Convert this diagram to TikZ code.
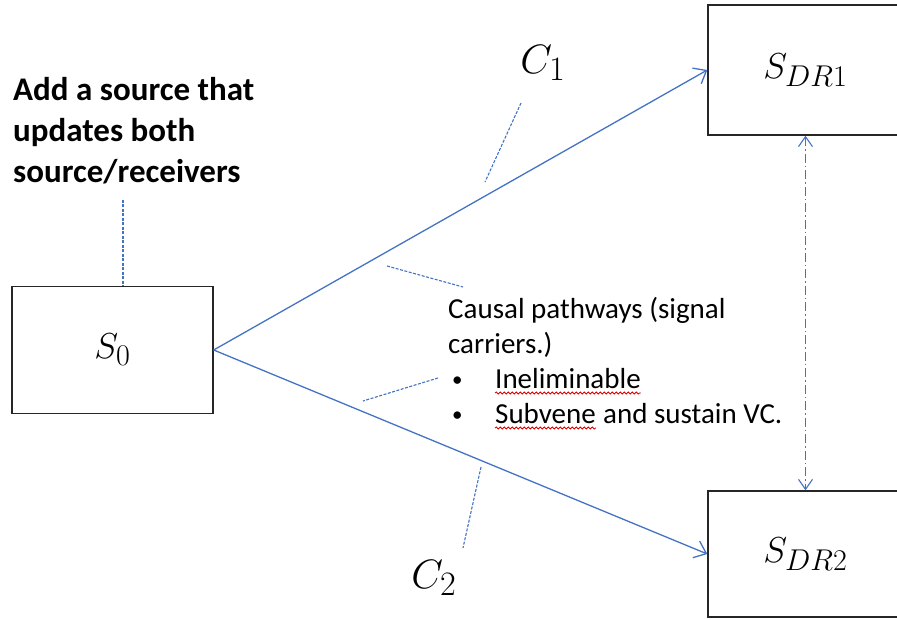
\documentclass[tikz,border=0pt]{standalone}
\usepackage{graphicx}
\usepackage{fontspec}
\setmainfont{Carlito}
\usepackage{tikz}
\usetikzlibrary{arrows.meta,decorations.pathmorphing}

\definecolor{pathblue}{RGB}{68,114,196}
\newcommand{\bigmath}[2]{\scalebox{#1}{\fontsize{24.88}{24.88}\selectfont$#2$}}
\tikzset{
  state/.style={draw=black!85,line width=1.4pt,minimum width=201pt,minimum height=127pt},
  carrier/.style={pathblue,line width=1.3pt,-{Straight Barb[length=11pt,width=18pt,line width=1.3pt]}},
  link/.style={pathblue,line width=1.1pt,dash pattern=on 9pt off 3pt on 1.5pt off 3pt,
    {Straight Barb[length=10pt,width=14pt,line width=1.1pt]}-{Straight Barb[length=10pt,width=14pt,line width=1.1pt]}},
  callout/.style={pathblue,line width=1.1pt,dash pattern=on 3pt off 1.5pt},
  note/.style={inner sep=0pt,anchor=base west,font=\fontsize{29}{29}\selectfont},
  squig/.style={red!85!black,line width=0.8pt,decorate,decoration={snake,amplitude=1pt,segment length=4pt}}
}

\begin{document}
\begin{tikzpicture}[x=1pt,y=-1pt]
  \clip (0,0) rectangle (897,620);
  % boxes
  \node[state] (s0) at (112.5,350) {\bigmath{1.45}{S_0}};
  \node[state,minimum width=195pt,minimum height=130pt] (sdr1) at (805.5,70) {\bigmath{1.45}{S_{DR1}}};
  \node[state,minimum width=195pt,minimum height=126pt] (sdr2) at (805.5,554) {\bigmath{1.45}{S_{DR2}}};
  % pathways
  \draw[carrier] (s0.east) -- (sdr1.west);
  \draw[carrier] (s0.east) -- (sdr2.west);
  \draw[link] (sdr1.south) -- (sdr2.north);
  % labels
  \node (c1) at (543,63) {\bigmath{1.65}{C_1}};
  \node (c2) at (434,578) {\bigmath{1.65}{C_2}};
  \node[align=left,anchor=north west,inner sep=0pt,font=\bfseries\fontsize{33}{41}\selectfont]
    (add) at (13,77) {Add a source that\\updates both\\source/receivers};
  \node[note] (cp1) at (448,319) {Causal pathways (signal};
  \node[note] (cp2) at (448,353) {carriers.)};
  \node[note,font=\fontsize{21}{21}\selectfont] (b1) at (452,386) {\textbullet};
  \node[note] (ine) at (495,388) {Ineliminable};
  \node[note,font=\fontsize{21}{21}\selectfont] (b2) at (452,421) {\textbullet};
  \node[note] (sub) at (495,423) {Subvene};
  \node[note] (sus) at ([xshift=7pt]sub.base east) {and sustain VC.};
  % spelling marks
  \draw[squig] ([yshift=-5pt]ine.base west) -- ([yshift=-5pt]ine.base east);
  \draw[squig] ([yshift=-5pt]sub.base west) -- ([yshift=-5pt]sub.base east);
  % callouts
  \coordinate (a1) at (123,200);
  \coordinate (k1) at (521,103); \coordinate (k2) at (485,182);
  \coordinate (m1) at (481,467); \coordinate (m2) at (463,548);
  \coordinate (p1) at (387,266); \coordinate (p2) at (463,287);
  \coordinate (q1) at (438,378); \coordinate (q2) at (363,401);
  \draw[callout] (a1) -- (a1 |- s0.north);
  \draw[callout] (k1) -- (k2);
  \draw[callout] (m1) -- (m2);
  \draw[callout] (p1) -- (p2);
  \draw[callout] (q1) -- (q2);
\end{tikzpicture}
\end{document}
